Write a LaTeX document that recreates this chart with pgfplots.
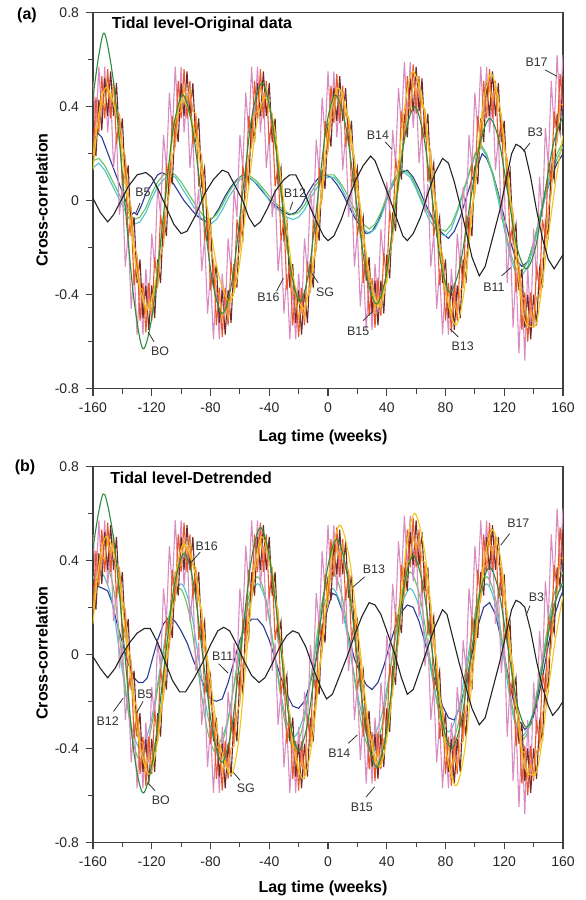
\documentclass[border=0pt]{standalone}
\usepackage{pgfplots}
\pgfplotsset{compat=1.18}
\usepackage{pgfplotstable}
\usepackage{fontspec}
\setmainfont{Liberation Sans}

\definecolor{cB3}{HTML}{222222}
\definecolor{cBO}{HTML}{2E8B3E}
\definecolor{cSG}{HTML}{F2C414}
\definecolor{cOR}{HTML}{F5A030}
\definecolor{cBL}{HTML}{2B3A8F}
\definecolor{cGR}{HTML}{62C462}
\definecolor{cTE}{HTML}{4EC3CC}
\definecolor{cMA}{HTML}{6E2A2A}
\definecolor{cRE}{HTML}{E8572A}
\definecolor{cPI}{HTML}{DA8CC0}
\definecolor{cTX}{HTML}{333333}

\pgfplotstableread{
x M R P O
-160 0.31 0.18 0.51 0.19
-158 0.19 0.44 0.31 0.31
-156 0.43 0.29 0.57 0.31
-154 0.30 0.53 0.34 0.42
-152 0.52 0.35 0.57 0.40
-150 0.36 0.56 0.29 0.48
-148 0.55 0.35 0.46 0.43
-146 0.36 0.51 0.14 0.48
-144 0.50 0.24 0.28 0.38
-142 0.25 0.36 -0.06 0.37
-140 0.35 0.06 0.06 0.23
-138 0.07 0.16 -0.28 0.19
-136 0.15 -0.16 -0.14 0.03
-134 -0.15 -0.06 -0.46 -0.03
-132 -0.07 -0.36 -0.29 -0.19
-130 -0.35 -0.24 -0.57 -0.23
-128 -0.25 -0.51 -0.34 -0.37
-126 -0.50 -0.35 -0.57 -0.38
-124 -0.36 -0.56 -0.29 -0.48
-122 -0.55 -0.35 -0.46 -0.43
-120 -0.36 -0.51 -0.14 -0.48
-118 -0.50 -0.24 -0.28 -0.38
-116 -0.25 -0.36 0.06 -0.37
-114 -0.35 -0.06 -0.06 -0.23
-112 -0.07 -0.16 0.28 -0.19
-110 -0.15 0.16 0.14 -0.03
-108 0.15 0.06 0.46 0.03
-106 0.07 0.36 0.29 0.19
-104 0.35 0.24 0.57 0.23
-102 0.25 0.51 0.34 0.37
-100 0.50 0.35 0.57 0.38
-98 0.36 0.56 0.29 0.48
-96 0.55 0.35 0.46 0.43
-94 0.36 0.51 0.14 0.48
-92 0.50 0.24 0.28 0.38
-90 0.25 0.36 -0.07 0.37
-88 0.35 0.06 0.05 0.23
-86 0.07 0.15 -0.30 0.19
-84 0.14 -0.17 -0.16 0.02
-82 -0.16 -0.08 -0.48 -0.04
-80 -0.09 -0.38 -0.31 -0.21
-78 -0.37 -0.26 -0.59 -0.25
-76 -0.27 -0.53 -0.36 -0.39
-74 -0.52 -0.37 -0.59 -0.40
-72 -0.38 -0.58 -0.31 -0.50
-70 -0.57 -0.37 -0.48 -0.45
-68 -0.38 -0.53 -0.16 -0.50
-66 -0.52 -0.26 -0.30 -0.40
-64 -0.27 -0.38 0.05 -0.39
-62 -0.37 -0.08 -0.07 -0.25
-60 -0.09 -0.17 0.28 -0.21
-58 -0.16 0.15 0.14 -0.04
-56 0.14 0.06 0.46 0.02
-54 0.07 0.36 0.29 0.19
-52 0.35 0.24 0.57 0.23
-50 0.25 0.51 0.34 0.37
-48 0.50 0.35 0.57 0.38
-46 0.36 0.56 0.29 0.48
-44 0.55 0.35 0.46 0.43
-42 0.36 0.51 0.14 0.48
-40 0.50 0.24 0.28 0.38
-38 0.25 0.36 -0.07 0.37
-36 0.35 0.06 0.05 0.23
-34 0.07 0.15 -0.30 0.19
-32 0.14 -0.17 -0.16 0.02
-30 -0.16 -0.08 -0.48 -0.04
-28 -0.09 -0.38 -0.31 -0.21
-26 -0.37 -0.26 -0.59 -0.25
-24 -0.27 -0.53 -0.36 -0.39
-22 -0.52 -0.37 -0.59 -0.40
-20 -0.38 -0.58 -0.31 -0.50
-18 -0.57 -0.37 -0.48 -0.45
-16 -0.38 -0.53 -0.16 -0.50
-14 -0.52 -0.26 -0.30 -0.40
-12 -0.27 -0.38 0.04 -0.39
-10 -0.37 -0.08 -0.08 -0.25
-8 -0.09 -0.18 0.26 -0.21
-6 -0.17 0.14 0.12 -0.05
-4 0.13 0.04 0.44 0.01
-2 0.05 0.34 0.27 0.17
0 0.33 0.22 0.55 0.21
2 0.23 0.49 0.32 0.35
4 0.48 0.33 0.55 0.36
6 0.34 0.54 0.27 0.46
8 0.53 0.33 0.45 0.41
10 0.34 0.49 0.13 0.46
12 0.48 0.23 0.28 0.36
14 0.24 0.35 -0.07 0.36
16 0.34 0.06 0.07 0.22
18 0.07 0.15 -0.28 0.19
20 0.14 -0.15 -0.13 0.02
22 -0.14 -0.06 -0.45 -0.02
24 -0.07 -0.35 -0.27 -0.19
26 -0.34 -0.23 -0.55 -0.22
28 -0.24 -0.49 -0.32 -0.36
30 -0.48 -0.33 -0.55 -0.36
32 -0.34 -0.54 -0.27 -0.46
34 -0.53 -0.33 -0.44 -0.41
36 -0.34 -0.49 -0.12 -0.46
38 -0.48 -0.22 -0.26 -0.36
40 -0.23 -0.34 0.08 -0.35
42 -0.33 -0.04 -0.04 -0.21
44 -0.05 -0.14 0.30 -0.17
46 -0.13 0.18 0.16 -0.01
48 0.17 0.08 0.48 0.05
50 0.09 0.38 0.31 0.21
52 0.37 0.26 0.59 0.25
54 0.27 0.53 0.36 0.39
56 0.52 0.37 0.59 0.40
58 0.38 0.58 0.31 0.50
60 0.57 0.37 0.48 0.45
62 0.38 0.53 0.16 0.50
64 0.52 0.26 0.30 0.40
66 0.27 0.38 -0.05 0.39
68 0.37 0.08 0.07 0.25
70 0.09 0.17 -0.28 0.21
72 0.16 -0.15 -0.14 0.04
74 -0.14 -0.06 -0.46 -0.02
76 -0.07 -0.36 -0.29 -0.19
78 -0.35 -0.24 -0.57 -0.23
80 -0.25 -0.51 -0.34 -0.37
82 -0.50 -0.35 -0.57 -0.38
84 -0.36 -0.56 -0.29 -0.48
86 -0.55 -0.35 -0.46 -0.43
88 -0.36 -0.51 -0.14 -0.48
90 -0.50 -0.24 -0.28 -0.38
92 -0.25 -0.36 0.06 -0.37
94 -0.35 -0.06 -0.06 -0.23
96 -0.07 -0.16 0.28 -0.19
98 -0.15 0.16 0.14 -0.03
100 0.15 0.06 0.46 0.03
102 0.07 0.36 0.29 0.19
104 0.35 0.24 0.57 0.23
106 0.25 0.51 0.34 0.37
108 0.50 0.35 0.57 0.38
110 0.36 0.56 0.29 0.48
112 0.55 0.35 0.46 0.43
114 0.36 0.51 0.13 0.48
116 0.50 0.24 0.27 0.38
118 0.25 0.35 -0.08 0.37
120 0.34 0.05 0.08 0.22
122 0.06 0.14 -0.35 0.18
124 0.13 -0.18 -0.13 0.01
126 -0.17 -0.09 -0.54 -0.05
128 -0.10 -0.39 -0.29 -0.22
130 -0.38 -0.28 -0.65 -0.26
132 -0.29 -0.55 -0.34 -0.41
134 -0.54 -0.39 -0.68 -0.42
136 -0.40 -0.60 -0.28 -0.52
138 -0.59 -0.39 -0.54 -0.47
140 -0.40 -0.54 -0.12 -0.52
142 -0.53 -0.28 -0.34 -0.41
144 -0.29 -0.38 0.10 -0.41
146 -0.37 -0.08 -0.07 -0.25
148 -0.09 -0.16 0.31 -0.21
150 -0.15 0.16 0.15 -0.03
152 0.15 0.08 0.51 0.03
154 0.09 0.38 0.31 0.21
156 0.37 0.28 0.62 0.25
158 0.29 0.54 0.37 0.41
160 0.53 0.39 0.62 0.41
}\noisy

\tikzset{
  lab/.style={font=\fontsize{6.2}{7}\selectfont, text=cTX, inner sep=0.5pt},
  ldr/.style={draw=cTX, line width=0.4pt},
}
\pgfplotsset{
  panel/.style={
    scale only axis, width=235pt, height=188pt,
    xmin=-160, xmax=160, ymin=-0.8, ymax=0.8,
    xtick={-160,-120,-80,-40,0,40,80,120,160},
    xticklabels={-160,-120,-80,-40,0,40,80,120,160},
    minor xtick={-140,-100,-60,-20,20,60,100,140},
    ytick={-0.8,-0.4,0,0.4,0.8},
    yticklabels={-0.8,-0.4,0,0.4,0.8},
    minor ytick={-0.6,-0.2,0.2,0.6},
    tick align=outside, xtick pos=left, ytick pos=left,
    major tick length=3.5pt, minor tick length=2.5pt,
    axis line style={draw=black!75, line width=0.6pt},
    tick style={black!75, line width=0.6pt},
    tick label style={font=\fontsize{7}{8}\selectfont, text=black!85},
    every axis plot/.append style={line width=0.55pt},
    anchor=south west,
  },
}

\begin{document}
\begin{tikzpicture}
\path[use as bounding box] (0,0) rectangle (292.5pt,450pt);

% ---------------- Panel (a) ----------------
\begin{axis}[panel, at={(46.5pt,255.65pt)}]
\addplot[cBL] coordinates {(-160,0.24) (-157,0.29) (-154,0.27) (-151,0.22) (-148,0.17) (-145,0.12) (-142,0.07) (-139,0.02) (-136,-0.03) (-134,-0.06) (-132,-0.05) (-130,-0.06) (-127,-0.02) (-124,0.03) (-120,0.07) (-116,0.11) (-113,0.12) (-110,0.11) (-106,0.08) (-102,0.04) (-98,0.00) (-94,-0.03) (-90,-0.06) (-86,-0.08) (-82,-0.09) (-78,-0.07) (-74,-0.03) (-70,0.02) (-66,0.06) (-62,0.09) (-58,0.11) (-54,0.10) (-50,0.08) (-46,0.05) (-42,0.02) (-38,-0.01) (-34,-0.03) (-30,-0.05) (-26,-0.06) (-22,-0.05) (-18,-0.02) (-14,0.03) (-10,0.07) (-6,0.10) (-2,0.11) (2,0.10) (6,0.07) (10,0.03) (14,-0.02) (18,-0.07) (22,-0.11) (26,-0.14) (30,-0.13) (34,-0.09) (38,-0.03) (42,0.04) (46,0.09) (50,0.12) (54,0.13) (58,0.10) (62,0.05) (66,-0.01) (70,-0.06) (74,-0.11) (78,-0.14) (82,-0.16) (86,-0.13) (90,-0.07) (94,0.01) (98,0.09) (102,0.15) (105,0.20) (108,0.18) (112,0.12) (116,0.03) (120,-0.07) (124,-0.17) (128,-0.25) (132,-0.28) (136,-0.26) (140,-0.18) (144,-0.08) (148,0.02) (152,0.10) (156,0.16) (160,0.20)};
\addplot[cTE] coordinates {(-160,0.14) (-156,0.16) (-152,0.13) (-148,0.08) (-144,0.03) (-140,-0.02) (-136,-0.07) (-132,-0.10) (-128,-0.09) (-124,-0.05) (-120,0.01) (-116,0.06) (-112,0.09) (-108,0.11) (-104,0.10) (-100,0.06) (-96,0.02) (-92,-0.02) (-88,-0.06) (-84,-0.09) (-80,-0.10) (-76,-0.08) (-72,-0.04) (-68,0.01) (-64,0.05) (-60,0.09) (-56,0.10) (-52,0.09) (-48,0.07) (-44,0.04) (-40,0.00) (-36,-0.03) (-32,-0.05) (-28,-0.07) (-24,-0.08) (-20,-0.07) (-16,-0.04) (-12,0.01) (-8,0.05) (-4,0.09) (0,0.10) (4,0.10) (8,0.07) (12,0.02) (16,-0.03) (20,-0.08) (24,-0.12) (28,-0.14) (32,-0.12) (36,-0.07) (40,0.00) (44,0.07) (48,0.11) (52,0.12) (56,0.10) (60,0.05) (64,-0.01) (68,-0.07) (72,-0.11) (76,-0.14) (80,-0.15) (84,-0.12) (88,-0.05) (92,0.03) (96,0.11) (100,0.19) (104,0.23) (108,0.19) (112,0.11) (116,0.00) (120,-0.12) (124,-0.24) (128,-0.31) (132,-0.32) (136,-0.28) (140,-0.20) (144,-0.09) (148,0.02) (152,0.11) (156,0.18) (160,0.23)};
\addplot[cGR] coordinates {(-160,0.17) (-156,0.18) (-152,0.15) (-148,0.10) (-144,0.05) (-140,0.00) (-136,-0.05) (-132,-0.08) (-128,-0.07) (-124,-0.03) (-120,0.03) (-116,0.08) (-112,0.11) (-108,0.12) (-104,0.11) (-100,0.08) (-96,0.04) (-92,0.00) (-88,-0.04) (-84,-0.07) (-80,-0.08) (-76,-0.06) (-72,-0.02) (-68,0.03) (-64,0.07) (-60,0.10) (-56,0.11) (-52,0.10) (-48,0.08) (-44,0.05) (-40,0.02) (-36,-0.01) (-32,-0.03) (-28,-0.05) (-24,-0.06) (-20,-0.05) (-16,-0.02) (-12,0.03) (-8,0.07) (-4,0.10) (0,0.11) (4,0.11) (8,0.08) (12,0.04) (16,-0.01) (20,-0.06) (24,-0.10) (28,-0.12) (32,-0.10) (36,-0.05) (40,0.02) (44,0.08) (48,0.12) (52,0.13) (56,0.11) (60,0.06) (64,0.00) (68,-0.05) (72,-0.09) (76,-0.12) (80,-0.13) (84,-0.10) (88,-0.04) (92,0.04) (96,0.12) (100,0.20) (104,0.24) (108,0.20) (112,0.12) (116,0.02) (120,-0.10) (124,-0.22) (128,-0.29) (132,-0.30) (136,-0.26) (140,-0.18) (144,-0.07) (148,0.04) (152,0.13) (156,0.20) (160,0.25)};
\addplot[cPI] table[x=x,y=P] {\noisy};
\addplot[cMA] table[x=x,y=M] {\noisy};
\addplot[cRE] table[x=x,y=R] {\noisy};
\addplot[cOR] table[x=x,y=O] {\noisy};
\addplot[cSG, smooth] coordinates {(-160,0.13) (-157,0.32) (-154,0.44) (-150,0.48) (-143.25,0.34) (-136.5,0.01) (-129.75,-0.32) (-123,-0.46) (-117,-0.33) (-111,-0.02) (-105,0.30) (-99,0.43) (-91,0.30) (-83,0.00) (-75,-0.30) (-67,-0.43) (-61,-0.30) (-55,0.01) (-49,0.31) (-43,0.44) (-36.5,0.31) (-30,-0.01) (-23.5,-0.33) (-17,-0.46) (-11,-0.32) (-5,0.01) (1,0.34) (7,0.48) (14,0.34) (21,0.02) (28,-0.31) (35,-0.45) (40.75,-0.30) (46.5,0.05) (52.25,0.40) (58,0.55) (65.25,0.39) (72.5,0.01) (79.75,-0.37) (87,-0.53) (93,-0.37) (99,0.01) (105,0.38) (111,0.54) (117.5,0.38) (124,0.01) (130.5,-0.37) (134,-0.51) (138,-0.535) (142,-0.52) (146,-0.35) (150,-0.15) (155,0.08) (160,0.28)};
\addplot[cBO, smooth] coordinates {(-160,0.44) (-156,0.62) (-152,0.71) (-145.5,0.48) (-139,0.04) (-132.5,-0.40) (-126,-0.63) (-119.25,-0.47) (-112.5,-0.09) (-105.75,0.29) (-99,0.45) (-92.25,0.31) (-85.5,-0.02) (-78.75,-0.34) (-72,-0.48) (-65.25,-0.34) (-58.5,0.01) (-51.75,0.36) (-45,0.50) (-38.5,0.36) (-32,0.04) (-25.5,-0.29) (-19,-0.43) (-13,-0.30) (-7,0.01) (-1,0.32) (5,0.45) (12,0.32) (19,0.01) (26,-0.31) (33,-0.44) (39.5,-0.32) (46,-0.02) (52.5,0.28) (59,0.40) (65,0.28) (71,0.01) (77,-0.27) (83,-0.39) (89.75,-0.28) (96.5,-0.02) (103.25,0.24) (110,0.35) (116.25,0.26) (122.5,0.03) (128.75,-0.20) (135,-0.29) (141.25,-0.20) (147.5,0.03) (153.75,0.25) (160,0.36)};
\addplot[cB3] coordinates {(-160,0.01) (-155,-0.05) (-150,-0.09) (-146,-0.06) (-141,0.00) (-136,0.06) (-130,0.11) (-124,0.12) (-120,0.10) (-115,0.04) (-110,-0.03) (-105,-0.10) (-100,-0.14) (-96,-0.13) (-90,-0.06) (-84,0.03) (-78,0.09) (-72,0.13) (-68,0.12) (-63,0.06) (-58,0.00) (-54,-0.07) (-50,-0.11) (-46,-0.09) (-41,-0.03) (-36,0.04) (-30,0.09) (-26,0.11) (-22,0.11) (-17,0.05) (-12,-0.03) (-7,-0.10) (-3,-0.15) (0,-0.17) (4,-0.15) (9,-0.08) (14,0.01) (19,0.09) (24,0.15) (29,0.19) (32,0.17) (37,0.09) (42,0.01) (47,-0.08) (51,-0.15) (54,-0.17) (58,-0.14) (63,-0.07) (68,0.03) (73,0.12) (78,0.18) (82,0.16) (86,0.08) (90,-0.02) (94,-0.13) (98,-0.24) (103,-0.32) (107,-0.28) (112,-0.16) (117,-0.04) (121,0.08) (125,0.20) (128,0.24) (131,0.23) (134,0.21) (138,0.10) (142,-0.04) (146,-0.16) (150,-0.25) (154,-0.29) (157,-0.26) (160,-0.23)};

\node[anchor=west, font=\bfseries\fontsize{8}{9}\selectfont] at (axis cs:-152,0.75) {Tidal level-Original data};
\node[lab] at (axis cs:-126,0.035) {B5};
\draw[ldr] (axis cs:-128,-0.01) -- (axis cs:-131,-0.055);
\node[lab] at (axis cs:-22.5,0.03) {B12};
\draw[ldr] (axis cs:-24,-0.005) -- (axis cs:-26,-0.04);
\node[lab] at (axis cs:34,0.28) {B14};
\draw[ldr] (axis cs:39,0.25) -- (axis cs:43.4,0.22);
\node[lab] at (axis cs:141,0.29) {B3};
\draw[ldr] (axis cs:137.5,0.245) -- (axis cs:133,0.21);
\node[lab] at (axis cs:142,0.59) {B17};
\draw[ldr] (axis cs:147.7,0.557) -- (axis cs:155.7,0.53);
\node[lab] at (axis cs:-40.6,-0.41) {B16};
\draw[ldr] (axis cs:-35,-0.385) -- (axis cs:-30.4,-0.33);
\node[lab] at (axis cs:-2,-0.39) {SG};
\draw[ldr] (axis cs:-6.6,-0.35) -- (axis cs:-11,-0.31);
\node[lab] at (axis cs:-114.4,-0.64) {BO};
\draw[ldr] (axis cs:-118.5,-0.60) -- (axis cs:-122.3,-0.56);
\node[lab] at (axis cs:20.6,-0.557) {B15};
\draw[ldr] (axis cs:24,-0.51) -- (axis cs:29.7,-0.475);
\node[lab] at (axis cs:91.7,-0.62) {B13};
\draw[ldr] (axis cs:88.7,-0.58) -- (axis cs:83,-0.545);
\node[lab] at (axis cs:113,-0.37) {B11};
\draw[ldr] (axis cs:118.2,-0.32) -- (axis cs:124.4,-0.285);
\end{axis}

% ---------------- Panel (b) ----------------
\begin{axis}[panel, at={(46.5pt,28.85pt)}]
\addplot[cBL] coordinates {(-160,0.25) (-157,0.29) (-153,0.28) (-150,0.27) (-147,0.22) (-144,0.14) (-140,0.05) (-136,-0.04) (-132,-0.10) (-129,-0.12) (-126,-0.12) (-123,-0.10) (-120,-0.03) (-116,0.06) (-112,0.13) (-108,0.16) (-104,0.14) (-100,0.10) (-96,0.05) (-92,-0.02) (-88,-0.08) (-84,-0.14) (-80,-0.19) (-76,-0.20) (-72,-0.19) (-68,-0.12) (-64,-0.03) (-60,0.06) (-56,0.12) (-52,0.15) (-48,0.15) (-44,0.12) (-40,0.06) (-36,-0.02) (-32,-0.10) (-28,-0.17) (-24,-0.22) (-20,-0.23) (-16,-0.20) (-12,-0.12) (-8,-0.02) (-4,0.10) (0,0.20) (3,0.26) (6,0.25) (10,0.18) (14,0.08) (18,-0.02) (22,-0.08) (26,-0.13) (30,-0.15) (34,-0.12) (38,-0.05) (42,0.04) (46,0.12) (50,0.18) (54,0.21) (58,0.20) (62,0.14) (66,0.05) (70,-0.05) (74,-0.14) (78,-0.22) (82,-0.27) (86,-0.28) (90,-0.22) (94,-0.12) (98,0.00) (102,0.12) (106,0.20) (110,0.22) (114,0.17) (118,0.06) (122,-0.07) (126,-0.19) (130,-0.28) (134,-0.32) (138,-0.30) (142,-0.22) (146,-0.10) (150,0.04) (154,0.16) (158,0.24) (160,0.27)};
\addplot[cTE, smooth] coordinates {(-160,0.28) (-157,0.33) (-154,0.35) (-147.5,0.24) (-141,-0.03) (-134.5,-0.29) (-128,-0.40) (-121,-0.30) (-114,-0.05) (-107,0.20) (-100,0.30) (-93.75,0.20) (-87.5,-0.04) (-81.25,-0.28) (-75,-0.38) (-68.25,-0.28) (-61.5,-0.04) (-54.75,0.20) (-48,0.30) (-41.75,0.21) (-35.5,-0.03) (-29.25,-0.26) (-23,-0.35) (-16.5,-0.26) (-10,-0.04) (-3.5,0.19) (3,0.28) (9.75,0.19) (16.5,-0.04) (23.25,-0.26) (30,-0.35) (36.5,-0.26) (43,-0.04) (49.5,0.19) (56,0.28) (62.5,0.19) (69,-0.03) (75.5,-0.24) (82,-0.33) (88.5,-0.24) (95,-0.02) (101.5,0.21) (108,0.30) (114,0.21) (120,-0.03) (126,-0.26) (132,-0.35) (139,-0.26) (146,-0.03) (153,0.20) (160,0.30)};
\addplot[cGR, smooth] coordinates {(-160,0.32) (-156,0.38) (-152,0.40) (-146,0.28) (-140,-0.03) (-134,-0.33) (-128,-0.45) (-121.25,-0.34) (-114.5,-0.09) (-107.75,0.17) (-101,0.28) (-94.75,0.18) (-88.5,-0.07) (-82.25,-0.32) (-76,-0.42) (-69,-0.31) (-62,-0.05) (-55,0.22) (-48,0.33) (-41.75,0.22) (-35.5,-0.04) (-29.25,-0.29) (-23,-0.40) (-16.5,-0.29) (-10,-0.03) (-3.5,0.24) (3,0.35) (9.75,0.24) (16.5,-0.04) (23.25,-0.31) (30,-0.42) (36.5,-0.31) (43,-0.04) (49.5,0.24) (56,0.35) (62.75,0.24) (69.5,-0.02) (76.25,-0.27) (83,-0.38) (89.25,-0.28) (95.5,-0.03) (101.75,0.23) (108,0.33) (114.25,0.23) (120.5,-0.02) (126.75,-0.26) (133,-0.36) (139.75,-0.25) (146.5,0.00) (153.25,0.24) (160,0.35)};
\addplot[cPI] table[x=x,y=P] {\noisy};
\addplot[cMA] table[x=x,y=M] {\noisy};
\addplot[cRE] table[x=x,y=R] {\noisy};
\addplot[cOR] table[x=x,y=O] {\noisy};
\addplot[cSG, smooth] coordinates {(-160,0.13) (-157,0.33) (-154,0.45) (-150,0.50) (-143,0.35) (-136,-0.01) (-129,-0.36) (-122,-0.51) (-116,-0.37) (-110,-0.02) (-104,0.33) (-98,0.47) (-90,0.33) (-82,-0.02) (-74,-0.37) (-66,-0.51) (-60.75,-0.36) (-55.5,-0.01) (-50.25,0.35) (-45,0.50) (-38,0.35) (-31,-0.02) (-24,-0.38) (-17,-0.53) (-10.75,-0.37) (-4.5,0.01) (1.75,0.39) (8,0.55) (14.75,0.40) (21.5,0.04) (28.25,-0.33) (35,-0.48) (41,-0.32) (47,0.06) (53,0.44) (59,0.60) (66,0.43) (73,0.02) (80,-0.39) (87,-0.56) (93.25,-0.40) (99.5,-0.02) (105.75,0.37) (112,0.53) (118.25,0.38) (124.5,0.01) (130.75,-0.36) (134,-0.48) (137,-0.51) (142,-0.50) (146,-0.36) (150,-0.15) (155,0.07) (160,0.25)};
\addplot[cBO, smooth] coordinates {(-160,0.45) (-156,0.61) (-152,0.68) (-145.5,0.47) (-139,0.05) (-132.5,-0.40) (-126,-0.59) (-119,-0.44) (-112,-0.08) (-105,0.28) (-98,0.43) (-91.5,0.30) (-85,-0.02) (-78.5,-0.33) (-72,-0.46) (-65.5,-0.31) (-59,0.04) (-52.5,0.39) (-46,0.54) (-39.5,0.40) (-33,0.07) (-26.5,-0.27) (-20,-0.41) (-13.5,-0.28) (-7,0.04) (-0.5,0.36) (6,0.49) (12.75,0.35) (19.5,0.01) (26.25,-0.34) (33,-0.48) (39.25,-0.35) (45.5,-0.03) (51.75,0.29) (58,0.42) (64.5,0.30) (71,0.01) (77.5,-0.28) (84,-0.40) (90.5,-0.29) (97,-0.02) (103.5,0.26) (110,0.37) (116.25,0.27) (122.5,0.03) (128.75,-0.21) (135,-0.31) (141.25,-0.22) (147.5,0.00) (153.75,0.20) (160,0.31)};
\addplot[cB3] coordinates {(-160,-0.01) (-155,-0.06) (-150,-0.10) (-145,-0.06) (-140,0.00) (-135,0.05) (-130,0.09) (-125,0.11) (-121,0.11) (-116,0.05) (-111,-0.03) (-106,-0.11) (-101,-0.16) (-97,-0.16) (-91,-0.10) (-85,-0.03) (-80,0.04) (-75,0.10) (-71,0.115) (-67,0.10) (-62,0.04) (-57,-0.03) (-52,-0.09) (-47,-0.12) (-43,-0.10) (-38,-0.04) (-33,0.03) (-28,0.08) (-24,0.10) (-20,0.09) (-15,0.03) (-10,-0.06) (-5,-0.14) (-1,-0.19) (3,-0.17) (8,-0.09) (13,-0.01) (18,0.08) (23,0.16) (28,0.22) (32,0.21) (36,0.17) (40,0.10) (45,0.01) (50,-0.10) (54,-0.17) (58,-0.15) (63,-0.06) (68,0.03) (73,0.12) (78,0.19) (81,0.17) (85,0.07) (89,-0.03) (93,-0.12) (98,-0.23) (103,-0.30) (107,-0.27) (112,-0.15) (117,-0.03) (121,0.08) (125,0.19) (128,0.23) (131,0.22) (134,0.20) (138,0.10) (142,-0.03) (146,-0.14) (150,-0.22) (153,-0.26) (157,-0.23) (160,-0.20)};

\node[anchor=west, font=\bfseries\fontsize{8}{9}\selectfont] at (axis cs:-153,0.75) {Tidal level-Detrended};
\node[lab] at (axis cs:-82.6,0.46) {B16};
\draw[ldr] (axis cs:-87,0.435) -- (axis cs:-94,0.386);
\node[lab] at (axis cs:-71.7,-0.007) {B11};
\draw[ldr] (axis cs:-74.5,-0.04) -- (axis cs:-68,-0.08);
\node[lab] at (axis cs:-124.6,-0.17) {B5};
\draw[ldr] (axis cs:-125.9,-0.20) -- (axis cs:-130.3,-0.25);
\node[lab] at (axis cs:-150,-0.286) {B12};
\draw[ldr] (axis cs:-146,-0.243) -- (axis cs:-139.4,-0.186);
\node[lab] at (axis cs:-113.9,-0.62) {BO};
\draw[ldr] (axis cs:-117.8,-0.58) -- (axis cs:-122.3,-0.55);
\node[lab] at (axis cs:-56,-0.57) {SG};
\draw[ldr] (axis cs:-59.9,-0.536) -- (axis cs:-64.4,-0.503);
\node[lab] at (axis cs:31.3,0.364) {B13};
\draw[ldr] (axis cs:25,0.33) -- (axis cs:16.8,0.285);
\node[lab] at (axis cs:129.6,0.557) {B17};
\draw[ldr] (axis cs:123.7,0.514) -- (axis cs:117.6,0.464);
\node[lab] at (axis cs:141.9,0.243) {B3};
\draw[ldr] (axis cs:137.5,0.207) -- (axis cs:134.8,0.164);
\node[lab] at (axis cs:7.7,-0.42) {B14};
\draw[ldr] (axis cs:13.8,-0.379) -- (axis cs:20,-0.343);
\node[lab] at (axis cs:23,-0.65) {B15};
\draw[ldr] (axis cs:25.9,-0.607) -- (axis cs:31.8,-0.564);
\end{axis}

% ---------------- outer labels ----------------
\node[font=\bfseries\fontsize{8}{9}\selectfont] at (13.5pt,442.5pt) {(a)};
\node[font=\bfseries\fontsize{8}{9}\selectfont] at (12.5pt,216.5pt) {(b)};
\node[rotate=90, font=\bfseries\fontsize{8}{9}\selectfont] at (21pt,350pt) {Cross-correlation};
\node[rotate=90, font=\bfseries\fontsize{8}{9}\selectfont] at (21pt,123.5pt) {Cross-correlation};
\node[font=\bfseries\fontsize{8}{9}\selectfont] at (161.5pt,231.5pt) {Lag time (weeks)};
\node[font=\bfseries\fontsize{8}{9}\selectfont] at (161.5pt,6pt) {Lag time (weeks)};
\end{tikzpicture}
\end{document}
